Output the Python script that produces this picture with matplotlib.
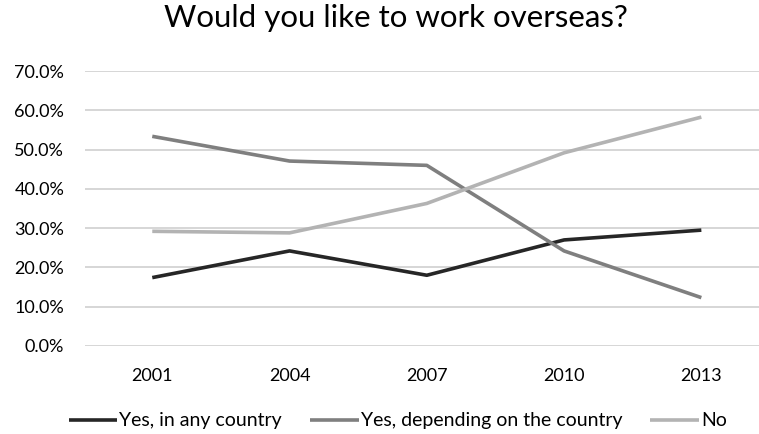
import numpy as np
import matplotlib
matplotlib.use("Agg")
import matplotlib.pyplot as plt
from matplotlib.ticker import PercentFormatter

# survey values
years = ["2001", "2004", "2007", "2010", "2013"]
any_country = [17.4, 24.2, 18.0, 27.0, 29.5]
depending = [53.4, 47.1, 46.0, 24.2, 12.3]
no = [29.2, 28.8, 36.3, 49.2, 58.3]

labels = ["Yes, in any country", "Yes, depending on the country", "No"]
colors = ["#262626", "#7f7f7f", "#b3b3b3"]

plt.rcParams['font.family'] = ['Lato', 'DejaVu Sans']

fig = plt.figure(figsize=(7.59, 4.34), dpi=100)
ax = fig.add_axes([0.112, 0.203, 0.888, 0.633])

x = np.arange(len(years))
for vals, lab, col in zip([any_country, depending, no], labels, colors):
    ax.plot(x, vals, color=col, linewidth=2.6, label=lab, solid_capstyle='butt')

ax.set_ylim(0, 70)
ax.set_yticks(np.arange(0, 71, 10))
ax.yaxis.set_major_formatter(PercentFormatter(decimals=1))
ax.set_xlim(-0.49, 4.42)
ax.set_xticks(x)
ax.set_xticklabels(years)
ax.tick_params(axis='both', length=0, labelsize=13, colors='#000000')
ax.tick_params(axis='x', pad=16)
ax.tick_params(axis='y', pad=15)
ax.grid(axis='y', color='#d0d0d0', linewidth=1.2)
ax.set_axisbelow(True)
for s in ax.spines.values():
    s.set_visible(False)

fig.suptitle("Would you like to work overseas?", fontsize=22.5, x=0.522, y=0.99)

fig.legend(loc='center', bbox_to_anchor=(0.524, 0.03), ncol=3, frameon=False,
           fontsize=14, handlelength=2.5, handletextpad=0.1, columnspacing=1.45)

fig.savefig("out.png", dpi=100)
